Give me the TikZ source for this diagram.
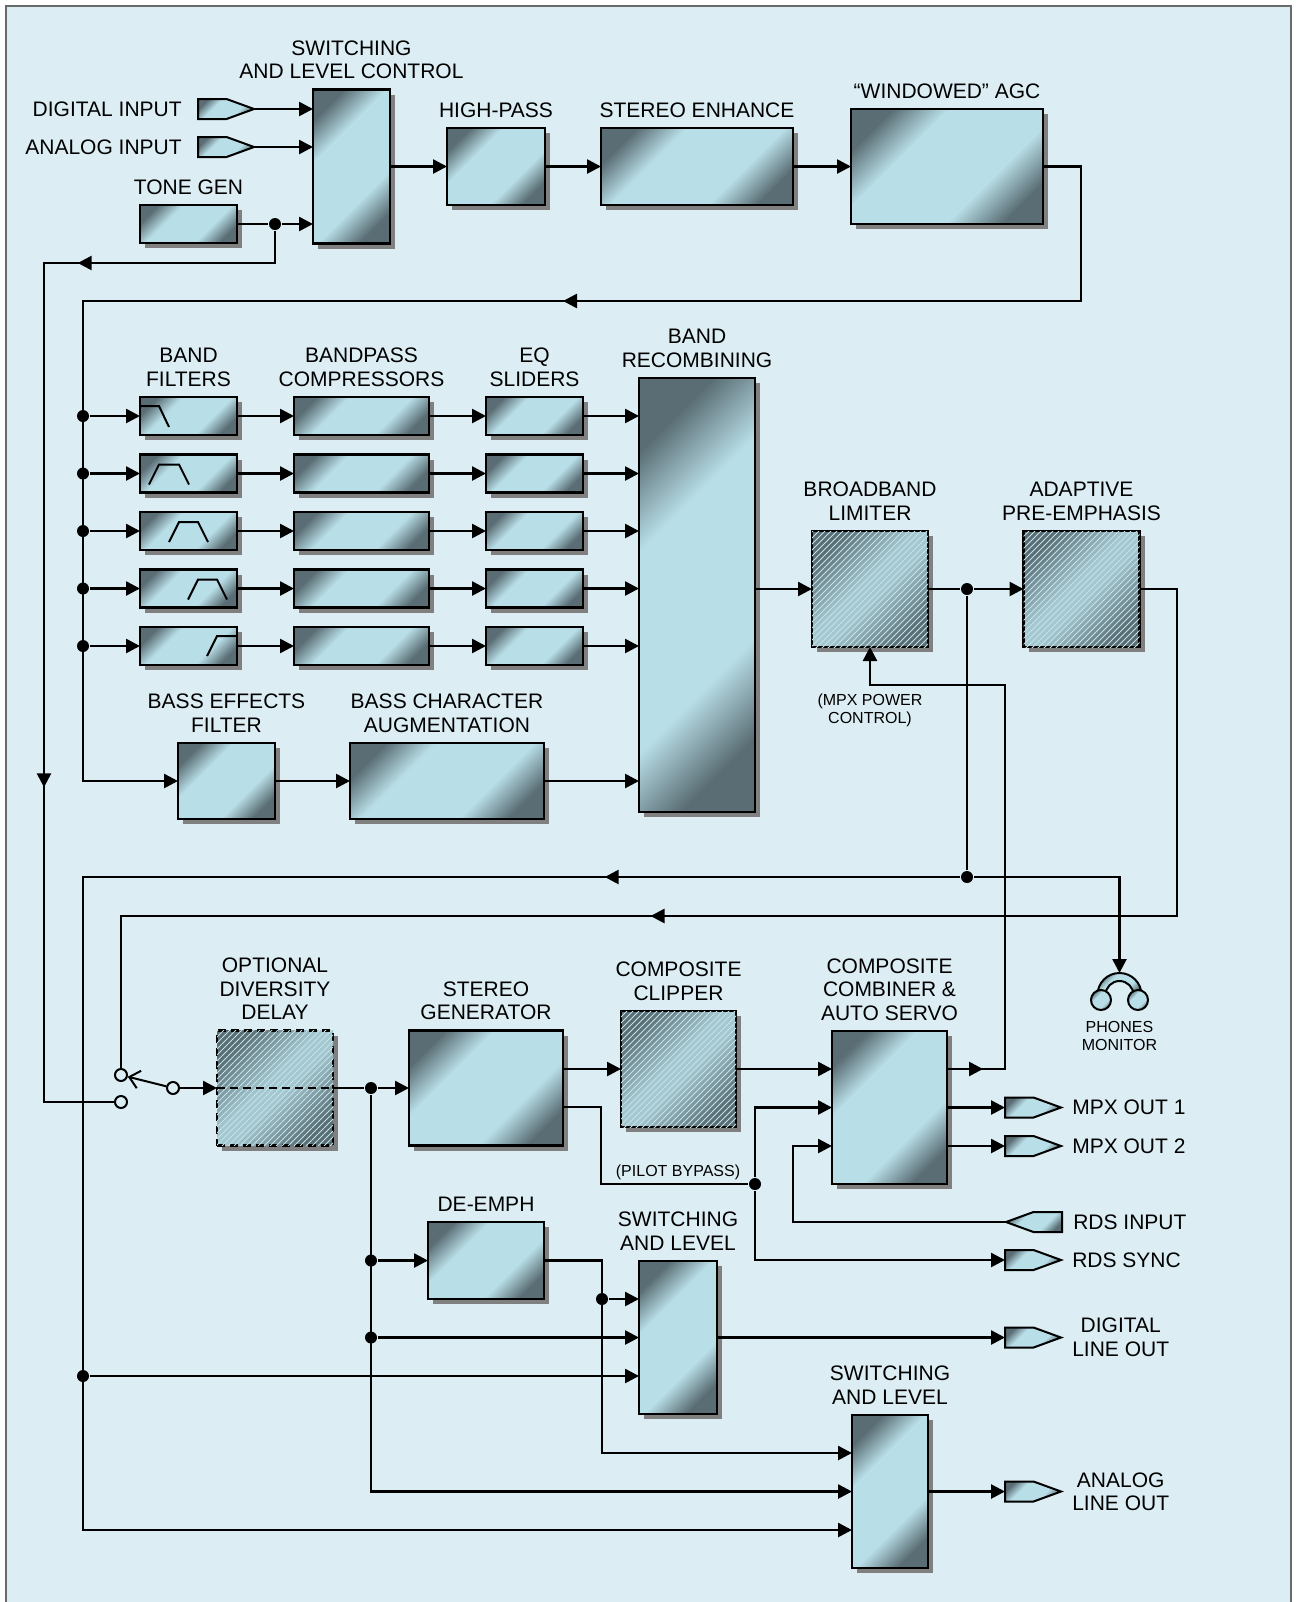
\documentclass[tikz,border=0pt]{standalone}
\usepackage{fontspec}
\setmainfont{Liberation Sans}
\usepackage{tikz}
\usetikzlibrary{positioning,arrows.meta,shapes.symbols,shadows,patterns,decorations.markings}

\definecolor{bakgrunn}{HTML}{DCEEF4}
\definecolor{lys}{HTML}{B8DEE7}
\definecolor{mork}{HTML}{5A6D74}
\definecolor{skygge}{HTML}{808080}
\definecolor{ramme}{HTML}{6A6A6A}

% gradient for the blocks
\pgfdeclarehorizontalshading{boksfarge}{100bp}{color(0bp)=(mork); color(24bp)=(mork);
  color(37bp)=(lys); color(63bp)=(lys); color(76bp)=(mork); color(100bp)=(mork)}
\pgfdeclarehorizontalshading{skravfarge}{100bp}{color(0bp)=(mork); color(25bp)=(mork);
  color(46bp)=(lys!80!mork); color(54bp)=(lys!80!mork); color(75bp)=(mork); color(100bp)=(mork)}

\tikzset{
    %Define standard arrow tip
    >={Triangle[length=7pt,width=7pt]},
    %Define style for boxes
    boks/.style={
           rectangle,
           draw=black, line width=1.3pt,
           inner sep=0pt, outer sep=0pt,
           shading=boksfarge, shading angle=-45,
           drop shadow={shadow xshift=2.5pt, shadow yshift=-2.5pt,
                        fill=skygge, opacity=1}},
    skrav/.style={
           shading=skravfarge,
           postaction={pattern=north east lines, pattern color=lys!85!white}},
    % Define style for inputs and outputs
    plugg/.style={
           signal, signal to=east, signal pointer angle=40,
           draw=black, line width=1pt,
           minimum width=28pt, minimum height=10pt,
           inner sep=0pt, outer sep=0pt,
           shading=boksfarge, shading angle=-45},
    tekst/.style={
           font=\fontsize{10.5}{11.75}\selectfont,
           align=center, inner sep=0pt},
    notat/.style={
           font=\fontsize{8}{9}\selectfont,
           align=center, inner sep=0pt},
    prikk/.style={
           circle, fill=black, inner sep=0pt, minimum size=6pt},
    kontakt/.style={
           circle, draw=black, fill=bakgrunn, line width=1pt,
           inner sep=0pt, minimum size=6pt},
    % Define arrow in the middle of a line
    midpil/.style={
           postaction={decorate,
           decoration={markings, mark=at position #1 with {\arrow{>}}}}}
}

\begin{document}
\begin{tikzpicture}[x=0.5pt, y=-0.5pt, line width=1.3pt, node distance=4.75pt]
\useasboundingbox (0,0) rectangle (1297,1602);
\fill[white] (0,0) rectangle (1297,1602);
\draw[ramme, line width=1pt, fill=bakgrunn] (6,6) rectangle (1291,1640);

%nodes, input stage
\node[boks, minimum width=38.5pt, minimum height=77pt] (sw1) at (351.5,166.5) {};
\node[tekst, above=of sw1] (sw1t) {SWITCHING\\AND LEVEL CONTROL};
\node[plugg, anchor=west] (din) at (198,109) {};
\node[tekst, left=7.5pt of din] (dint) {DIGITAL INPUT};
\node[plugg, anchor=west] (ain) at (198,147) {};
\node[tekst, left=7.5pt of ain] (aint) {ANALOG INPUT};
\node[boks, minimum width=48.5pt, minimum height=19pt] (tone) at (188.5,224) {};
\node[tekst, above=of tone] (tonet) {TONE GEN};
\node[prikk] (tdot) at (275,224) {};
\node[boks, minimum width=49pt, minimum height=38.5pt] (hp) at (496,166.5) {};
\node[tekst, above=of hp] (hpt) {HIGH-PASS};
\node[boks, minimum width=96pt, minimum height=38.5pt] (se) at (697,166.5) {};
\node[tekst, above=of se] (set) {STEREO ENHANCE};
\node[boks, minimum width=96pt, minimum height=57.5pt] (agc) at (947,166.5) {};
\node[tekst, above=of agc] (agct) {“WINDOWED” AGC};

%nodes, bands
\foreach \i/\y in {1/416,2/473.5,3/531,4/588.5,5/646}{
  \node[boks, minimum width=48.5pt, minimum height=19pt] (bf\i) at (188.5,\y) {};
  \node[boks, minimum width=67.5pt, minimum height=19pt] (bc\i) at (361.5,\y) {};
  \node[boks, minimum width=48.5pt, minimum height=19pt] (eq\i) at (534.5,\y) {};
  \node[prikk] (d\i) at (83,\y) {};
}
\node[tekst, above=of bf1] (bft) {BAND\\FILTERS};
\node[tekst, above=of bc1] (bct) {BANDPASS\\COMPRESSORS};
\node[tekst, above=of eq1] (eqt) {EQ\\SLIDERS};
\node[boks, minimum width=58pt, minimum height=217pt] (rec) at (697,595) {};
\node[tekst, above=of rec] (rect) {BAND\\RECOMBINING};
\node[boks, minimum width=48.5pt, minimum height=38pt] (bef) at (226.5,781) {};
\node[tekst, above=of bef] (beft) {BASS EFFECTS\\FILTER};
\node[boks, minimum width=97pt, minimum height=38pt] (bca) at (447,781) {};
\node[tekst, above=of bca] (bcat) {BASS CHARACTER\\AUGMENTATION};
% filter curves
\draw[line width=1pt, shift={(bf1.center)}] (-48.5,-10) -- (-29.5,-10) -- (-19.5,11);
\draw[line width=1pt, shift={(bf2.center)}] (-39.5,11) -- (-29.5,-9) -- (-9.5,-9) -- (0.5,11);
\draw[line width=1pt, shift={(bf3.center)}] (-19.5,11) -- (-9.5,-9) -- (9.5,-9) -- (19.5,11);
\draw[line width=1pt, shift={(bf4.center)}] (-0.5,11) -- (9.5,-9) -- (28.5,-9) -- (38.5,11);
\draw[line width=1pt, shift={(bf5.center)}] (18.5,10) -- (28.5,-10) -- (48.5,-10);

%nodes, limiter
\node[boks, skrav, minimum width=58pt, minimum height=58pt] (bl) at (870,589) {};
\node[tekst, above=of bl] (blt) {BROADBAND\\LIMITER};
\node[prikk] (bldot) at (967,589) {};
\node[boks, skrav, minimum width=58pt, minimum height=58pt] (ap) at (1081.5,589) {};
\node[tekst, above=of ap] (apt) {ADAPTIVE\\PRE-EMPHASIS};
\node[notat] (mpxt) at (870,710) {(MPX POWER\\CONTROL)};
\node[prikk] (fbdot) at (967,877) {};

%nodes, output stage
\node[kontakt] (swa) at (121,1075) {};
\node[kontakt] (swb) at (121,1102) {};
\node[kontakt] (pv) at (173,1088) {};
\node[boks, skrav, dash pattern=on 4pt off 2.5pt, minimum width=58pt, minimum height=57.5pt] (dly) at (275,1088) {};
\node[tekst, above=of dly] (dlyt) {OPTIONAL\\DIVERSITY\\DELAY};
\node[prikk] (sdot) at (371,1088) {};
\node[boks, minimum width=77pt, minimum height=57.5pt] (sg) at (486,1088) {};
\node[tekst, above=of sg] (sgt) {STEREO\\GENERATOR};
\node[boks, skrav, minimum width=57.5pt, minimum height=58pt] (cc) at (678.5,1069) {};
\node[tekst, above=of cc] (cct) {COMPOSITE\\CLIPPER};
\node[boks, minimum width=57.5pt, minimum height=76.5pt] (cmb) at (889.5,1107.5) {};
\node[tekst, above=of cmb] (cmbt) {COMPOSITE\\COMBINER \&\\AUTO SERVO};
\node[notat] (pilot) at (678,1172) {(PILOT BYPASS)};
\node[prikk] (pdot) at (755,1184) {};
\node[boks, minimum width=58pt, minimum height=38.5pt] (de) at (486,1260.5) {};
\node[tekst, above=of de] (det) {DE-EMPH};
\node[prikk] (dedot) at (371,1260.5) {};
\node[prikk] (dedot2) at (602,1299) {};
\node[boks, minimum width=39pt, minimum height=76.5pt] (sw2) at (678,1337.5) {};
\node[tekst, above=of sw2] (sw2t) {SWITCHING\\AND LEVEL};
\node[prikk] (sw2dot) at (371,1337.5) {};
\node[prikk] (lodot) at (83,1376) {};
\node[boks, minimum width=38pt, minimum height=76.5pt] (sw3) at (890,1491.5) {};
\node[tekst, above=of sw3] (sw3t) {SWITCHING\\AND LEVEL};

%outputs
\node[plugg, anchor=west] (mpx1) at (1005,1107.5) {};
\node[tekst, right=5pt of mpx1] (mpx1t) {MPX OUT 1};
\node[plugg, anchor=west] (mpx2) at (1005,1146) {};
\node[tekst, right=5pt of mpx2] (mpx2t) {MPX OUT 2};
\node[plugg, signal to=west, anchor=east] (rdsi) at (1062,1222) {};
\node[tekst, right=5pt of rdsi] (rdsit) {RDS INPUT};
\node[plugg, anchor=west] (rdss) at (1005,1260) {};
\node[tekst, right=5pt of rdss] (rdsst) {RDS SYNC};
\node[plugg, anchor=west] (dlo) at (1005,1337.5) {};
\node[tekst, right=5pt of dlo] (dlot) {DIGITAL\\LINE OUT};
\node[plugg, anchor=west] (alo) at (1005,1491.5) {};
\node[tekst, right=5pt of alo] (alot) {ANALOG\\LINE OUT};

% headphones
\coordinate (phn) at (1119.5,973);
\draw[line width=1pt, shading=boksfarge, shading angle=-45] (1097.5,995) arc[start angle=180, end angle=0, radius=11pt]
  -- (1133.5,995) arc[start angle=0, end angle=180, radius=7pt] -- cycle;
\draw[line width=1pt, shading=boksfarge, shading angle=-45] (1101,1000) circle[radius=5pt];
\draw[line width=1pt, shading=boksfarge, shading angle=-45] (1138,1000) circle[radius=5pt];
\node[notat] (phnt) at (1119.5,1036) {PHONES\\MONITOR};

%connections, input stage
\draw[->] (din) -- (din -| sw1.west);
\draw[->] (ain) -- (ain -| sw1.west);
\draw (tone) -- (tdot);
\draw[->] (tdot) -- (tdot -| sw1.west);
\draw[->] (sw1) -- (hp);
\draw[->] (hp) -- (se);
\draw[->] (se) -- (agc);
\coordinate (c1) at (1081,301);
\coordinate (c2) at (83,301);
\draw[->, midpil=345.25pt] (agc) -| (c1) -- (c2) |- (bef);
\coordinate (c6) at (44,263);
\coordinate (c7) at (44,1102);
\draw[midpil=114.5pt, midpil=393.5pt] (tdot) |- (c6) -- (c7) -- (swb);

%connections, bands
\foreach \i in {1,...,5}{
  \draw[->] (d\i) -- (bf\i);
  \draw[->] (bf\i) -- (bc\i);
  \draw[->] (bc\i) -- (eq\i);
  \draw[->] (eq\i) -- (eq\i -| rec.west);
}
\draw[->] (bef) -- (bca);
\draw[->] (bca) -- (bca -| rec.west);
\draw[->] (rec.east |- bl) -- (bl);
\draw (bl) -- (bldot);
\draw[->] (bldot) -- (ap);
\draw (bldot) -- (fbdot);
\draw[->] (fbdot) -| (phn);
\coordinate (c3) at (83,877);
\draw[->, midpil=177.5pt] (fbdot) -- (c3) |- ([yshift=-19.25pt]sw3.west);
\draw[->] (lodot) -- (lodot -| sw2.west);
\coordinate (c4) at (1177,916);
\coordinate (c5) at (121,916);
\draw[midpil=445.5pt] (ap) -| (c4) -- (c5) -- (swa);
\coordinate (c8) at (1005,685);
\draw[->, midpil=18pt] (cmb.east |- cc) -| (c8) -| (bl);

%connections, output stage
\draw[-{Straight Barb[length=5pt,width=9pt]}, line width=1pt] (pv) -- (swa);
\draw[->] (pv) -- (dly);
\draw[dash pattern=on 4pt off 2.5pt] (dly.west) -- (dly.east);
\draw (dly) -- (sdot);
\draw[->] (sdot) -- (sg);
\draw[->] (sdot) |- (sw3);
\draw[->] (dedot) -- (de);
\draw[->] (sw2dot) -- (sw2);
\draw[->] (sg.east |- cc) -- (cc);
\draw[->] (cc) -- (cc -| cmb.west);
\coordinate (c9) at (601,1184);
\draw ([yshift=-9.5pt]sg.east) -| (c9) -- (pdot);
\draw[->] (pdot) |- (cmb);
\draw[->] (pdot) |- (rdss);
\coordinate (c10) at (793,1146);
\draw[->] (rdsi.west) -| (c10) -- (c10 -| cmb.west);
\draw[->] (cmb) -- (mpx1);
\draw[->] ([yshift=-19.25pt]cmb.east) -- (mpx2);
\coordinate (c11) at (602,1453);
\draw[->] (de) -| (c11) -- (c11 -| sw3.west);
\draw[->] (dedot2) -- (dedot2 -| sw2.west);
\draw[->] (sw2) -- (dlo);
\draw[->] (sw3) -- (alo);
\end{tikzpicture}
\end{document}
